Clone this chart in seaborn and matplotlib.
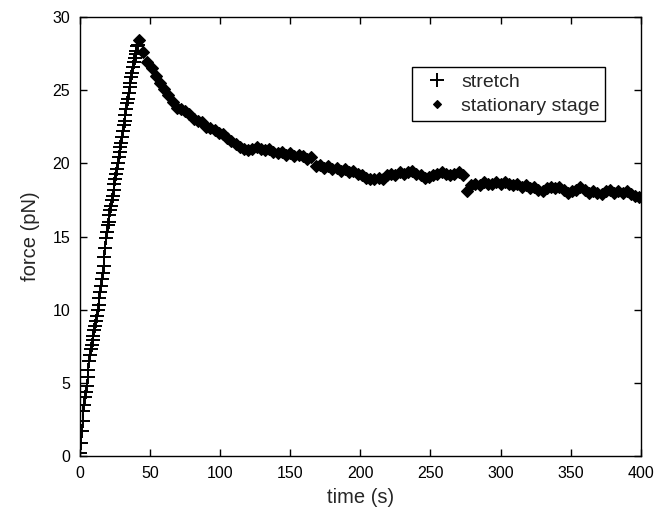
import matplotlib
matplotlib.use("Agg")
import matplotlib.pyplot as plt
import seaborn as sns
import numpy as np

# stretch phase (time s, force pN)
stretch_t = [0.0, 0.6, 1.2, 1.8, 2.4, 3.0, 3.6, 4.2, 4.8, 5.4,
             6.0, 6.6, 7.2, 7.8, 8.4, 9.0, 9.6, 10.2, 10.8, 11.4,
             12.0, 12.6, 13.2, 13.8, 14.4, 15.0, 15.6, 16.2, 16.8, 17.4,
             18.0, 18.6, 19.2, 19.8, 20.4, 21.0, 21.6, 22.2, 22.8, 23.4,
             24.0, 24.6, 25.2, 25.8, 26.4, 27.0, 27.6, 28.2, 28.8, 29.4,
             30.0, 30.6, 31.2, 31.8, 32.4, 33.0, 33.6, 34.2, 34.8, 35.4,
             36.0, 36.6, 37.2, 37.8, 38.4, 39.0, 39.6, 40.2, 40.8, 41.4]
stretch_f = [0.2, 0.9, 1.7, 2.4, 3.1, 3.5, 4.0, 4.4, 4.8, 5.4,
             5.9, 6.5, 6.9, 7.3, 7.6, 7.9, 8.2, 8.6, 8.9, 9.2,
             9.6, 10.0, 10.3, 10.8, 11.2, 11.6, 12.1, 12.5, 13.0, 13.6,
             14.2, 14.9, 15.3, 15.8, 16.0, 16.5, 16.8, 17.1, 17.5, 17.8,
             18.2, 18.6, 18.9, 19.3, 19.6, 20.0, 20.4, 20.8, 21.1, 21.4,
             21.8, 22.2, 22.6, 22.9, 23.3, 23.7, 24.1, 24.4, 24.8, 25.2,
             25.5, 25.9, 26.2, 26.6, 26.9, 27.2, 27.5, 27.7, 28.0, 28.1]

# stationary stage
stat_t = [42, 45, 48, 51, 54, 57, 60, 63, 66, 69,
          72, 75, 78, 81, 84, 87, 90, 93, 96, 99,
          102, 105, 108, 111, 114, 117, 120, 123, 126, 129,
          132, 135, 138, 141, 144, 147, 150, 153, 156, 159,
          162, 165, 168, 171, 174, 177, 180, 183, 186, 189,
          192, 195, 198, 201, 204, 207, 210, 213, 216, 219,
          222, 225, 228, 231, 234, 237, 240, 243, 246, 249,
          252, 255, 258, 261, 264, 267, 270, 273, 276, 279,
          282, 285, 288, 291, 294, 297, 300, 303, 306, 309,
          312, 315, 318, 321, 324, 327, 330, 333, 336, 339,
          342, 345, 348, 351, 354, 357, 360, 363, 366, 369,
          372, 375, 378, 381, 384, 387, 390, 393, 396, 399]
stat_f = [28.4, 27.6, 26.9, 26.5, 26.0, 25.5, 25.1, 24.7, 24.2, 23.8,
          23.7, 23.6, 23.4, 23.0, 22.9, 22.8, 22.5, 22.4, 22.3, 22.1,
          22.0, 21.7, 21.5, 21.3, 21.1, 21.0, 20.9, 21.0, 21.1, 21.0,
          20.9, 21.0, 20.8, 20.7, 20.8, 20.6, 20.7, 20.5, 20.6, 20.5,
          20.3, 20.4, 19.8, 19.9, 19.7, 19.8, 19.6, 19.7, 19.5, 19.6,
          19.4, 19.5, 19.3, 19.2, 19.0, 18.9, 18.9, 19.0, 18.9, 19.2,
          19.3, 19.2, 19.4, 19.3, 19.4, 19.5, 19.3, 19.2, 19.0, 19.1,
          19.2, 19.3, 19.4, 19.3, 19.2, 19.3, 19.4, 19.2, 18.1, 18.5,
          18.6, 18.5, 18.7, 18.6, 18.6, 18.7, 18.6, 18.7, 18.6, 18.5,
          18.6, 18.4, 18.5, 18.3, 18.4, 18.2, 18.1, 18.3, 18.4, 18.3,
          18.4, 18.2, 18.0, 18.1, 18.2, 18.4, 18.2, 18.0, 18.1, 18.0,
          17.9, 18.1, 18.2, 18.0, 18.1, 18.0, 18.1, 17.9, 17.8, 17.7]

xticks = [0, 50, 100, 150, 200, 250, 300, 350, 400]
yticks = [0, 5, 10, 15, 20, 25, 30]

sns.set_style("ticks")
plt.rcParams['font.family'] = ['Liberation Sans', 'DejaVu Sans']

fig = plt.figure(figsize=(6.64, 5.16), dpi=100)
ax = fig.add_axes([0.1205, 0.1163, 0.8445, 0.8507])

sns.lineplot(x=stretch_t, y=stretch_f, ax=ax, estimator=None, sort=False,
             linestyle='', marker='+', markersize=10, markeredgewidth=1.4,
             markeredgecolor='black', color='black', label='stretch')
sns.lineplot(x=stat_t, y=stat_f, ax=ax, estimator=None, sort=False,
             linestyle='', marker='D', markersize=6.5, markeredgewidth=0.8,
             markeredgecolor='black', markerfacecolor='black',
             color='black', label='stationary stage')

ax.set_xlim(0, 400)
ax.set_ylim(0, 30)
ax.set_xticks(xticks)
ax.set_yticks(yticks)
ax.tick_params(direction='in', length=5, width=1, top=True, right=True,
               labelsize=11.5, colors='black', pad=7)
for s in ax.spines.values():
    s.set_visible(True)
    s.set_color('black')
    s.set_linewidth(1.0)
ax.set_xlabel('time (s)', fontsize=14.5, labelpad=5)
ax.set_ylabel('force (pN)', fontsize=14.5, labelpad=9)

leg = ax.legend(loc='upper right', bbox_to_anchor=(0.937, 0.886),
                fontsize=14, frameon=True, fancybox=False, borderpad=0.3,
                handletextpad=0.3, handlelength=1.9, labelspacing=0.35,
                borderaxespad=0)
leg.get_frame().set_edgecolor('black')
leg.get_frame().set_linewidth(1.0)
leg.get_frame().set_alpha(1)
hs = leg.legend_handles
hs[0].set_markersize(10)
hs[1].set_markersize(4)

fig.savefig('out.png', dpi=100, facecolor='white')
